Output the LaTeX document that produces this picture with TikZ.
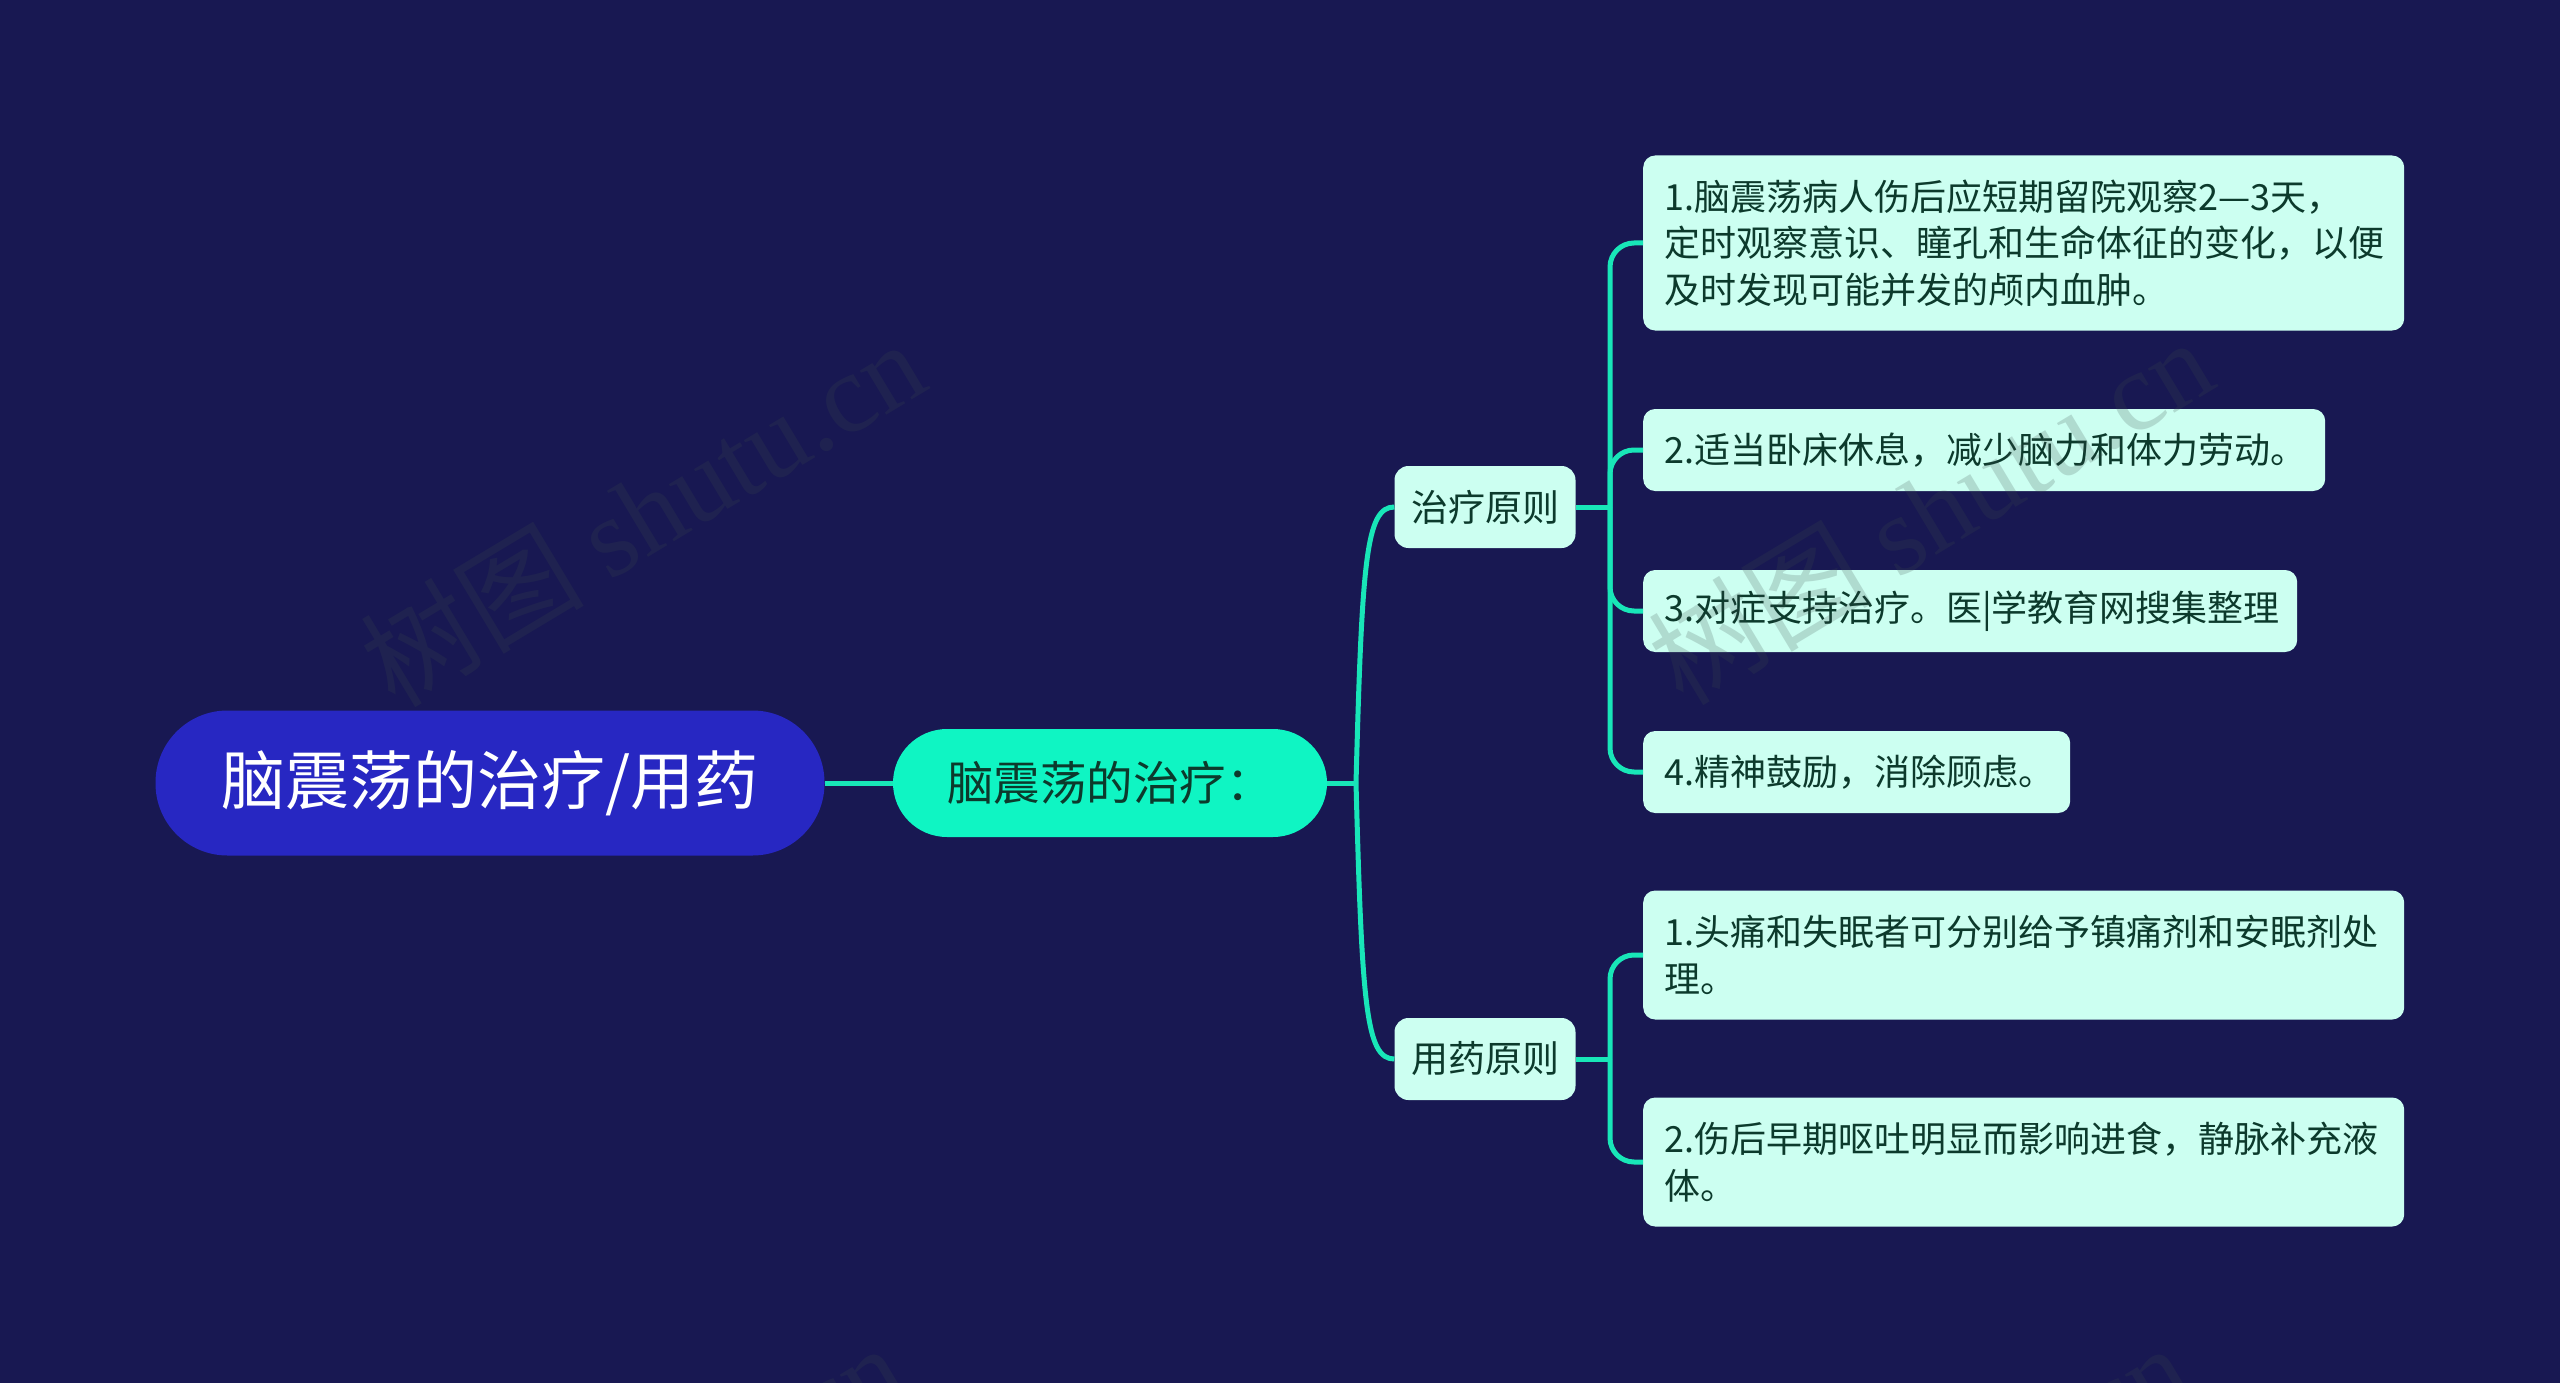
\documentclass[tikz,border=0pt]{standalone}
\usepackage{fontspec}
\setmainfont{Noto Sans CJK SC}
\newfontfamily\wmserif{Liberation Serif}
\definecolor{bg}{HTML}{181852}
\definecolor{rootfill}{HTML}{2727C2}
\definecolor{mainfill}{HTML}{0FF5C3}
\definecolor{leaffill}{HTML}{CCFFF1}
\definecolor{ink}{HTML}{0C3A2C}
\definecolor{linkc}{HTML}{18E6B8}
\definecolor{wm}{RGB}{60,75,75}
\begin{document}
\begin{tikzpicture}[x=1pt,y=-1pt,
  rootbox/.style={rectangle, rounded corners=72pt, fill=rootfill, text=white,
    font=\fontsize{64}{72}\selectfont, minimum width=669pt, minimum height=145pt, inner sep=0pt},
  mainbox/.style={rectangle, rounded corners=54pt, fill=mainfill, text=ink,
    font=\fontsize{46.5}{54}\selectfont, minimum width=434pt, minimum height=108pt, inner sep=0pt},
  catbox/.style={rectangle, rounded corners=14pt, fill=leaffill, text=ink,
    font=\fontsize{37}{44}\selectfont, minimum width=181pt, minimum height=82pt, inner sep=0pt},
  leafbox/.style={rectangle, rounded corners=12pt, fill=leaffill, text=ink,
    font=\fontsize{36}{46.5}\selectfont, align=left, inner xsep=21pt, inner ysep=0pt, anchor=west},
  linkline/.style={draw=linkc, line width=5pt},
  wmark/.style={text=wm, opacity=0.2, rotate=31, font=\fontsize{112}{120}\selectfont, inner sep=0pt}
]
\fill[bg] (0,0) rectangle (2560,1383);
\useasboundingbox (0,0) rectangle (2560,1383);

% nodes
\node[rootbox] (root) at (490,783) {脑震荡的治疗/用药};
\node[mainbox] (main) at (1110,783) {脑震荡的治疗：};
\node[catbox] (cat1) at (1485,507) {治疗原则};
\node[catbox] (cat2) at (1485,1059) {用药原则};

\node[leafbox, text width=719pt, minimum height=175pt] (l1) at (1643,243)
  {1.脑震荡病人伤后应短期留院观察2—3天，\\定时观察意识、瞳孔和生命体征的变化，以便\\及时发现可能并发的颅内血肿。};
\node[leafbox, text width=640pt, minimum height=82pt] (l2) at (1643,450)
  {2.适当卧床休息，减少脑力和体力劳动。};
\node[leafbox, text width=612pt, minimum height=82pt] (l3) at (1643,611)
  {3.对症支持治疗。医|学教育网搜集整理};
\node[leafbox, text width=385pt, minimum height=82pt] (l4) at (1643,772)
  {4.精神鼓励，消除顾虑。};
\node[leafbox, text width=719pt, minimum height=129pt] (l5) at (1643,955)
  {1.头痛和失眠者可分别给予镇痛剂和安眠剂处\\理。};
\node[leafbox, text width=719pt, minimum height=129pt] (l6) at (1643,1162)
  {2.伤后早期呕吐明显而影响进食，静脉补充液\\体。};

% connectors
\coordinate (m1) at (1356,783);
\coordinate (j1) at (1610,507);
\coordinate (j2) at (1610,1059);
\draw[linkline] (root.east) -- (main.west);
\draw[linkline] (main.east) -- (m1);
\draw[linkline] (m1) .. controls (1362,560) and (1366,507) .. (cat1.west);
\draw[linkline] (m1) .. controls (1362,1006) and (1366,1059) .. (cat2.west);
\draw[linkline] (cat1.east) -- (j1);
\draw[linkline] (cat2.east) -- (j2);
\foreach \n in {l1,l2,l3,l4} \draw[linkline, rounded corners=24pt] (j1) |- (\n.west);
\foreach \n in {l5,l6} \draw[linkline, rounded corners=24pt] (j2) |- (\n.west);

% watermarks
\begin{scope}
\clip (0,0) rectangle (2560,1383);
\node[wmark] (w1) at (642,512) {树图 {\wmserif shutu.cn}};
\node[wmark] (w2) at (1930,510) {树图 {\wmserif shutu.cn}};
\node[wmark] (w3) at (622,1516) {树图 {\wmserif shutu.cn}};
\node[wmark] (w4) at (1907,1516) {树图 {\wmserif shutu.cn}};
\end{scope}
\end{tikzpicture}
\end{document}
